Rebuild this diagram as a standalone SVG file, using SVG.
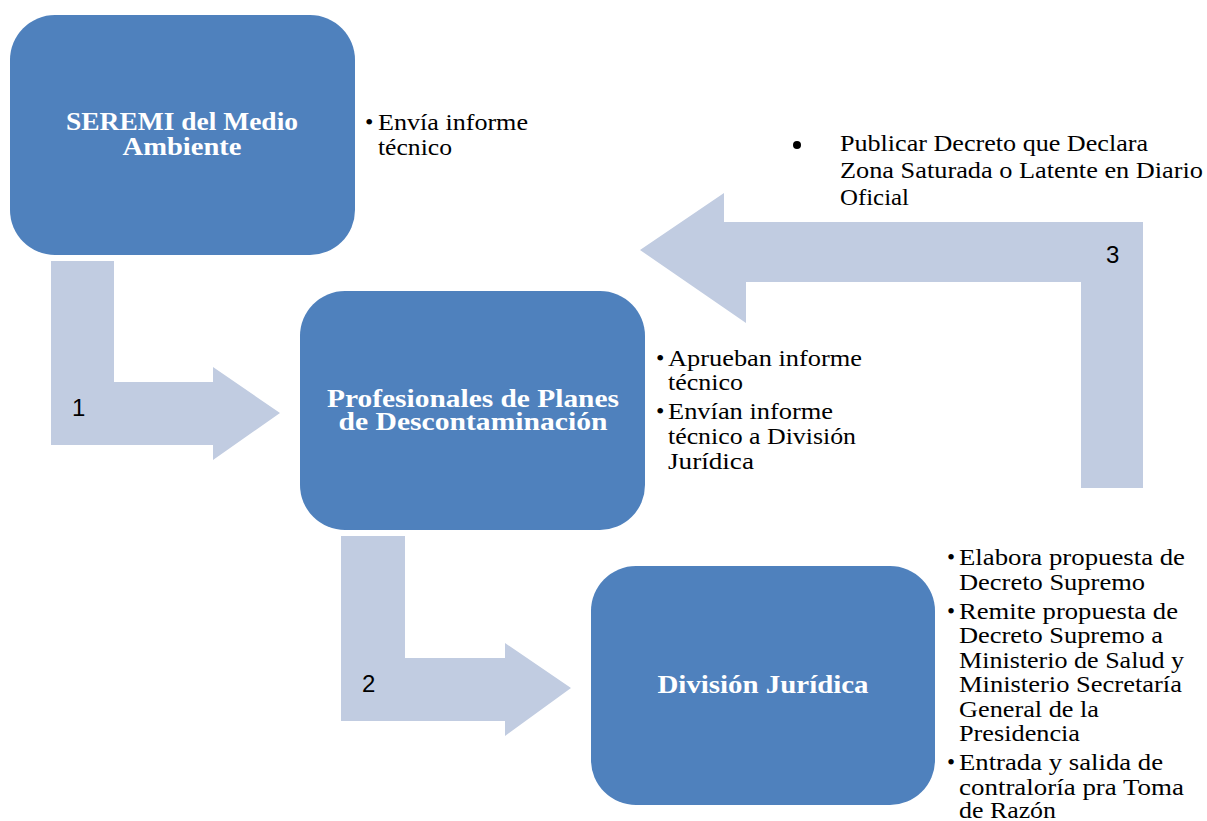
<svg xmlns="http://www.w3.org/2000/svg" width="1207" height="821" viewBox="0 0 1207 821">
  <style>
    .box { fill: #4F81BD; }
    .arrow { fill: #C1CCE1; }
    .title { font-family: "Liberation Serif", "DejaVu Serif", serif; font-weight: bold; font-size: 25px; fill: #FFFFFF; text-anchor: middle; }
    .note { font-family: "Liberation Serif", "DejaVu Serif", serif; font-size: 24px; fill: #000000; }
    .narrow { font-family: "Liberation Serif", "DejaVu Serif", serif; font-size: 23px; fill: #000000; }
    .num { font-family: "Liberation Sans", "DejaVu Sans", sans-serif; font-size: 24px; fill: #000000; }
  </style>
  <rect width="1207" height="821" fill="#FFFFFF"/>

  <!-- connectors: bent block arrows -->
  <g id="connectors">
    <polygon class="arrow" points="51,261 114,261 114,382 213,382 213,367 280,413 213,460 213,445 51,445"/>
    <polygon class="arrow" points="341,536 405,536 405,658 505,658 505,643 571,688 505,736 505,721 341,721"/>
    <polygon class="arrow" points="640,250 724,193 724,222 1143,222 1143,488 1081,488 1081,282 746,282 746,323"/>
    <text class="num" x="72" y="416">1</text>
    <text class="num" x="362" y="692">2</text>
    <text class="num" x="1106" y="263">3</text>
  </g>

  <!-- step 1 -->
  <g id="node-seremi">
    <rect class="box" x="10" y="15" width="345" height="240" rx="45"/>
    <text class="title" x="182" y="130" textLength="232" lengthAdjust="spacingAndGlyphs">SEREMI del Medio</text>
    <text class="title" x="182" y="155" textLength="119" lengthAdjust="spacingAndGlyphs">Ambiente</text>
  </g>
  <g id="notes-seremi">
    <text class="note" x="365" y="130">•</text>
    <text class="note" x="378" y="130" textLength="150" lengthAdjust="spacingAndGlyphs">Envía informe</text>
    <text class="note" x="378" y="155" textLength="74" lengthAdjust="spacingAndGlyphs">técnico</text>
  </g>

  <!-- step 2 -->
  <g id="node-profesionales">
    <rect class="box" x="300" y="291" width="345" height="239" rx="45"/>
    <text class="title" x="473" y="407" textLength="292" lengthAdjust="spacingAndGlyphs">Profesionales de Planes</text>
    <text class="title" x="473" y="430" textLength="269" lengthAdjust="spacingAndGlyphs">de Descontaminación</text>
  </g>
  <g id="notes-profesionales">
    <text class="note" x="656" y="366">•</text>
    <text class="note" x="668" y="366" textLength="194" lengthAdjust="spacingAndGlyphs">Aprueban informe</text>
    <text class="note" x="668" y="390" textLength="75" lengthAdjust="spacingAndGlyphs">técnico</text>
    <text class="note" x="656" y="419">•</text>
    <text class="note" x="668" y="419" textLength="165" lengthAdjust="spacingAndGlyphs">Envían informe</text>
    <text class="note" x="668" y="444" textLength="188" lengthAdjust="spacingAndGlyphs">técnico a División</text>
    <text class="note" x="668" y="469" textLength="86" lengthAdjust="spacingAndGlyphs">Jurídica</text>
  </g>

  <!-- step 3 -->
  <g id="node-juridica">
    <rect class="box" x="591" y="566" width="344" height="239" rx="45"/>
    <text class="title" x="763" y="693" textLength="211" lengthAdjust="spacingAndGlyphs">División Jurídica</text>
  </g>
  <g id="notes-juridica">
    <text class="narrow" x="947" y="565">•</text>
    <text class="narrow" x="959" y="565" textLength="226" lengthAdjust="spacingAndGlyphs">Elabora propuesta de</text>
    <text class="narrow" x="959" y="590" textLength="186" lengthAdjust="spacingAndGlyphs">Decreto Supremo</text>
    <text class="narrow" x="947" y="619">•</text>
    <text class="narrow" x="959" y="619" textLength="219" lengthAdjust="spacingAndGlyphs">Remite propuesta de</text>
    <text class="narrow" x="959" y="643" textLength="204" lengthAdjust="spacingAndGlyphs">Decreto Supremo a</text>
    <text class="narrow" x="959" y="668" textLength="225" lengthAdjust="spacingAndGlyphs">Ministerio de Salud y</text>
    <text class="narrow" x="959" y="692" textLength="223" lengthAdjust="spacingAndGlyphs">Ministerio Secretaría</text>
    <text class="narrow" x="959" y="717" textLength="140" lengthAdjust="spacingAndGlyphs">General de la</text>
    <text class="narrow" x="959" y="741" textLength="121" lengthAdjust="spacingAndGlyphs">Presidencia</text>
    <text class="narrow" x="947" y="770">•</text>
    <text class="narrow" x="959" y="770" textLength="204" lengthAdjust="spacingAndGlyphs">Entrada y salida de</text>
    <text class="narrow" x="959" y="795" textLength="225" lengthAdjust="spacingAndGlyphs">contraloría pra Toma</text>
    <text class="narrow" x="959" y="818" textLength="97" lengthAdjust="spacingAndGlyphs">de Razón</text>
  </g>

  <!-- final step note -->
  <g id="notes-publicar">
    <circle cx="797" cy="145" r="4" fill="#000000"/>
    <text class="note" x="840" y="151" textLength="308" lengthAdjust="spacingAndGlyphs">Publicar Decreto que Declara</text>
    <text class="note" x="840" y="178" textLength="363" lengthAdjust="spacingAndGlyphs">Zona Saturada o Latente en Diario</text>
    <text class="note" x="840" y="205" textLength="69" lengthAdjust="spacingAndGlyphs">Oficial</text>
  </g>
</svg>
